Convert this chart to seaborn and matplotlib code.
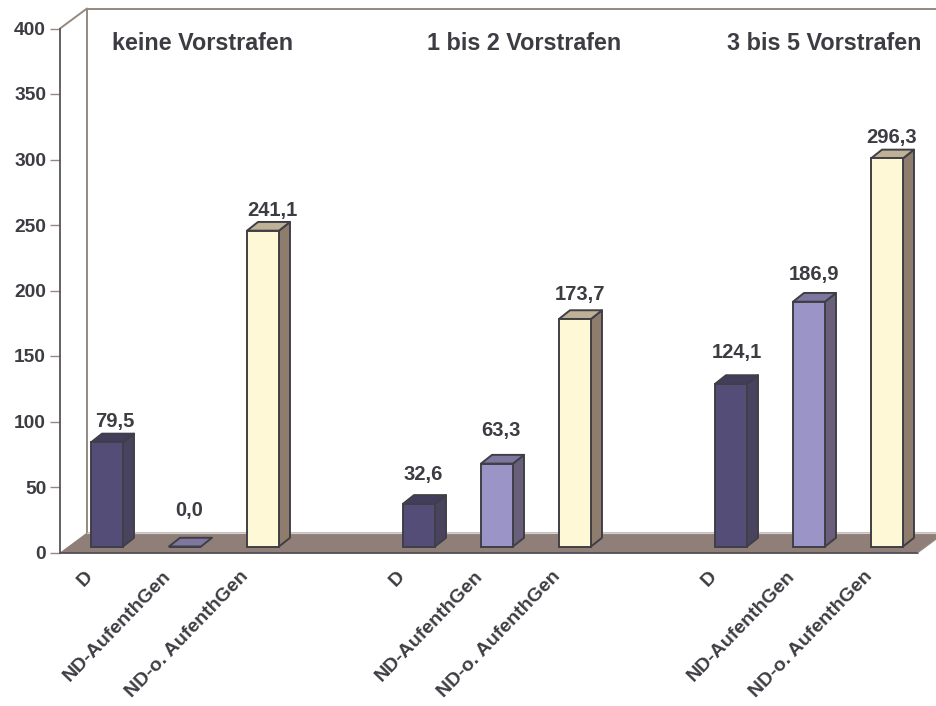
import matplotlib
matplotlib.use("Agg")
import matplotlib.pyplot as plt
import matplotlib.colors as mcolors
from matplotlib.patches import Polygon
from matplotlib.lines import Line2D
from matplotlib.transforms import Affine2D
import pandas as pd
import seaborn as sns

# Values per group, one entry for each residence status
groups = ["keine Vorstrafen", "1 bis 2 Vorstrafen", "3 bis 5 Vorstrafen"]
status = ["D", "ND-AufenthGen", "ND-o. AufenthGen"]
keine = [79.5, 0.0, 241.1]
eins_zwei = [32.6, 63.3, 173.7]
drei_fuenf = [124.1, 186.9, 296.3]
y_ticks = [0, 50, 100, 150, 200, 250, 300, 350, 400]

# Shaded faces: front, side, top
FACES = {
    "D": ("#544d78", "#49435f", "#423d5c"),
    "ND-AufenthGen": ("#9b94c7", "#6a5f7a", "#7f76a0"),
    "ND-o. AufenthGen": ("#fff8d6", "#8e7d6c", "#bfb196"),
}
TEXT = "#3c3c42"
EDGE = "#3f3f46"
WALL = "#968880"
FLOOR = "#8f7f78"
BAR_LW = 1.4

W, H = 936, 706
sns.set_theme(style="white", rc={"axes.facecolor": "none", "figure.facecolor": "white"})
plt.rcParams["font.family"] = ["Liberation Sans", "DejaVu Sans"]

rows = []
slot = 0
for values in (keine, eins_zwei, drei_fuenf):
    for name, value in zip(status, values):
        rows.append({"slot": slot, "status": name, "value": value})
        slot += 1
    slot += 1
df = pd.DataFrame(rows)

fig = plt.figure(figsize=(W / 100, H / 100), dpi=100)
ax = fig.add_axes([60 / W, 1 - 552.5 / H, 858 / W, 524 / H])

sns.barplot(
    data=df, x="slot", y="value", hue="status", order=None, native_scale=True,
    palette={k: v[0] for k, v in FACES.items()}, hue_order=status, dodge=False,
    width=0.41, legend=False, ax=ax, edgecolor=EDGE, linewidth=BAR_LW, saturation=1,
    zorder=4,
)
ax.set_xlim(-0.5, 10.5)
ax.set_ylim(0, 400)

# Pixel sizes of the pseudo-perspective, expressed in data units
px_x = 11 / 858
px_y = 400 / 524
depth_x, depth_y = 27 * px_x, 20 * px_y
shift_x, shift_y = 8 * px_x, 6 * px_y
bar_dx, bar_dy = 11 * px_x, 8.7 * px_y

# Floor and back wall
x0, x1 = ax.get_xlim()
floor = Polygon(
    [(x0, 0), (x1, 0), (x1 + depth_x, depth_y), (x0 + depth_x, depth_y)],
    closed=True, facecolor=FLOOR, edgecolor="none", clip_on=False, zorder=1,
)
ax.add_patch(floor)
ax.add_line(Line2D([x0 + depth_x, x1 + depth_x], [depth_y, depth_y], color="#d4d1cf",
                   lw=0.8, clip_on=False, zorder=1.5))
ax.add_line(Line2D([x0, x0 + depth_x, x0 + depth_x], [400, 400 + depth_y, depth_y],
                   color=WALL, lw=1.4, clip_on=False, zorder=1))
ax.add_line(Line2D([x0 + depth_x, x1 + depth_x], [400 + depth_y, 400 + depth_y],
                   color=WALL, lw=1.4, clip_on=False, zorder=1))
ax.add_line(Line2D([x0, x1], [0, 0], color=EDGE, lw=1.2, clip_on=False, zorder=2))
ax.add_line(Line2D([x1, x1 + depth_x], [0, depth_y], color=WALL, lw=0.8, clip_on=False, zorder=2))

# Every bar sits a little behind the front edge of the floor
offset = Affine2D().translate(shift_x, shift_y) + ax.transData
by_front = {mcolors.to_hex(v[0]): v for v in FACES.values()}
for bar in ax.patches:
    if not isinstance(bar, plt.Rectangle):
        continue
    faces = by_front.get(mcolors.to_hex(bar.get_facecolor()))
    if faces is None:
        continue
    bar.set_transform(offset)
    bar.set_clip_on(False)
    xa, xb = bar.get_x(), bar.get_x() + bar.get_width()
    top = bar.get_height()
    if top > 0:
        side = Polygon(
            [(xb, 0), (xb + bar_dx, bar_dy), (xb + bar_dx, top + bar_dy), (xb, top)],
            closed=True, facecolor=faces[1], edgecolor=EDGE, lw=BAR_LW, joinstyle="round",
            transform=offset, clip_on=False, zorder=3.5,
        )
        ax.add_patch(side)
    lid = Polygon(
        [(xa, top), (xb, top), (xb + bar_dx, top + bar_dy), (xa + bar_dx, top + bar_dy)],
        closed=True, facecolor=faces[2], edgecolor=EDGE, lw=BAR_LW, joinstyle="round",
        transform=offset, clip_on=False, zorder=3.5,
    )
    ax.add_patch(lid)

# Value labels with a decimal comma; nudges in pixels from the bar centre
nudges = [(8, 12), (4.5, 27), (9, 11), (4, 21), (4, 24), (5, 16), (5.5, 23), (5.5, 18), (5, 12)]
for (_, row), (nx, ny) in zip(df.iterrows(), nudges):
    ax.annotate(
        f"{row['value']:.1f}".replace(".", ","),
        xy=(row["slot"] + shift_x, row["value"] + shift_y + bar_dy),
        xytext=(nx * 0.72, ny * 0.72), textcoords="offset points",
        ha="center", va="center", fontsize=14.5, fontweight="bold", color=TEXT,
        annotation_clip=False, zorder=6,
    )

# Group captions above the bars
for centre_px, name in zip((202.5, 524, 824), groups):
    ax.text((centre_px - 60) * px_x + x0, 400 - (44 - 28.5) * px_y, name, ha="center", va="center",
            fontsize=16.8, fontweight="bold", color=TEXT, zorder=6)

# Axes
sns.despine(ax=ax, top=True, right=True, bottom=True, left=False)
ax.spines["left"].set_color("#55555a")
ax.spines["left"].set_linewidth(1.3)
ax.set_xlabel("")
ax.set_ylabel("")
ax.set_yticks(y_ticks)
ax.tick_params(axis="y", length=7, width=1.0, color=WALL, left=True, pad=3,
               labelsize=13.8, labelcolor=TEXT)
for lab in ax.get_yticklabels():
    lab.set_fontweight("bold")
ax.set_xticks(df["slot"])
ax.set_xticklabels(df["status"], rotation=46, ha="right", va="top", rotation_mode="anchor",
                   fontsize=14, fontweight="bold", color=TEXT)
ax.tick_params(axis="x", length=0, bottom=False, pad=11)
nudge_labels = Affine2D().translate(-15, 0)
for lab in ax.get_xticklabels():
    lab.set_transform(lab.get_transform() + nudge_labels)

fig.savefig("out.png", dpi=100)
